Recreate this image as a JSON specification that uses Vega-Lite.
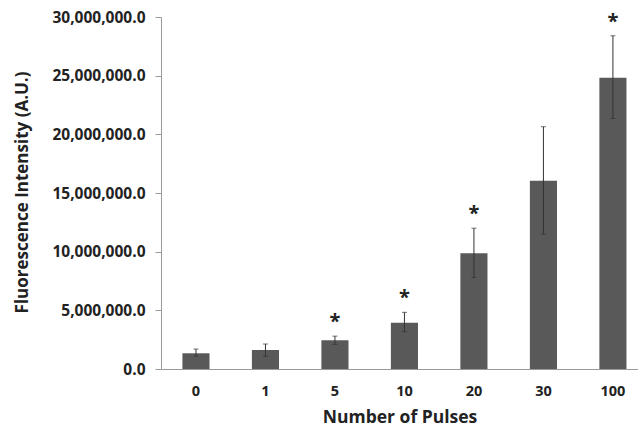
{
  "$schema": "https://vega.github.io/schema/vega-lite/v6.json",
  "width": 477,
  "height": 352,
  "autosize": "none",
  "padding": {"left": 161, "top": 17, "right": 0, "bottom": 62},
  "background": "white",
  "config": {
    "view": {"stroke": null},
    "font": "Open Sans",
    "axis": {"grid": false, "domainColor": "#9a9a9a", "tickColor": "#9a9a9a", "labelColor": "#222222", "titleColor": "#222222", "labelFontWeight": "bold", "titleFontWeight": "bold", "labelFont": "Open Sans", "titleFont": "Open Sans"}
  },
  "data": {
    "values": [
      {"pulses": "0", "mean": 1340000, "lo": 1100000, "hi": 1700000, "sig": ""},
      {"pulses": "1", "mean": 1620000, "lo": 1080000, "hi": 2130000, "sig": ""},
      {"pulses": "5", "mean": 2450000, "lo": 2100000, "hi": 2800000, "sig": "*"},
      {"pulses": "10", "mean": 3950000, "lo": 3180000, "hi": 4830000, "sig": "*"},
      {"pulses": "20", "mean": 9860000, "lo": 7800000, "hi": 12000000, "sig": "*"},
      {"pulses": "30", "mean": 16050000, "lo": 11500000, "hi": 20650000, "sig": ""},
      {"pulses": "100", "mean": 24830000, "lo": 21350000, "hi": 28400000, "sig": "*"}
    ]
  },
  "encoding": {
    "x": {
      "field": "pulses", "type": "ordinal", "sort": ["0", "1", "5", "10", "20", "30", "100"],
      "scale": {"paddingInner": 0.61, "paddingOuter": 0.237, "align": 0.65},
      "axis": {"title": "Number of Pulses", "labelAngle": 0, "ticks": false, "labelFontSize": 14.5, "labelPadding": 15, "titleFontSize": 17.5, "titlePadding": 11}
    }
  },
  "layer": [
    {
      "mark": {"type": "bar", "color": "#595959"},
      "encoding": {
        "y": {
          "field": "mean", "type": "quantitative",
          "scale": {"domain": [0, 30000000], "nice": false},
          "axis": {"title": "Fluorescence Intensity (A.U.)", "values": [0, 5000000, 10000000, 15000000, 20000000, 25000000, 30000000], "format": ",.1f", "tickSize": 6, "labelFontSize": 15.5, "labelPadding": 10, "titleFontSize": 17, "titleX": -139, "titleY": 175, "titleAngle": -90, "titleBaseline": "middle", "titleAlign": "center"}
        }
      }
    },
    {
      "mark": {"type": "rule", "color": "#333333", "strokeWidth": 1},
      "encoding": {"y": {"field": "lo", "type": "quantitative"}, "y2": {"field": "hi"}}
    },
    {
      "mark": {"type": "tick", "color": "#333333", "thickness": 1, "size": 5},
      "encoding": {"y": {"field": "hi", "type": "quantitative"}}
    },
    {
      "mark": {"type": "tick", "color": "#333333", "thickness": 1, "size": 5},
      "encoding": {"y": {"field": "lo", "type": "quantitative"}}
    },
    {
      "mark": {"type": "text", "fontSize": 20, "fontWeight": "bold", "color": "#222222", "baseline": "middle", "dy": -14, "font": "Open Sans"},
      "encoding": {"y": {"field": "hi", "type": "quantitative"}, "text": {"field": "sig"}}
    }
  ]
}
